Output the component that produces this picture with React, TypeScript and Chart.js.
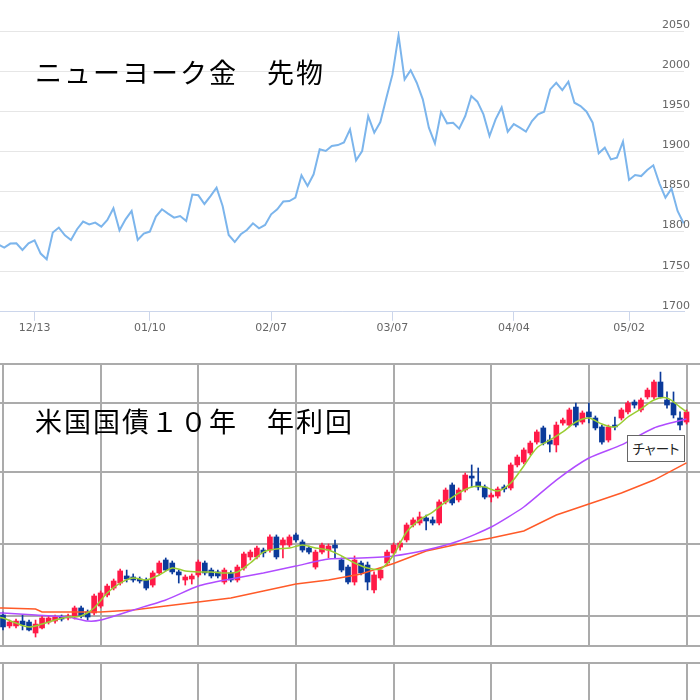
import React, { useEffect, useRef } from 'react';
import { Chart, registerables } from 'chart.js';

Chart.register(...registerables);

// ---------- Top chart: NY gold futures ----------
const goldStartIndex = -1;
const goldValues = [
  1784, 1780, 1785, 1785.4, 1777, 1785.4, 1789, 1772.6, 1765.5, 1798.8,
  1805, 1795.4, 1789.5, 1802.9, 1812.5, 1809, 1811.2, 1806.2, 1814.4, 1829,
  1801.6, 1815.3, 1825.7, 1789.5, 1797.5, 1800, 1818.7, 1827.8, 1822.4, 1817.4,
  1819.4, 1813.2, 1846.1, 1845.2, 1834.4, 1844.3, 1854.8, 1831.9, 1795.8, 1787,
  1796.6, 1802, 1810.3, 1804.1, 1808.2, 1821.5, 1827.8, 1837.4, 1838.1, 1842.3,
  1870.1, 1856.8, 1871.4, 1902.5, 1900.4, 1906.6, 1907.8, 1911, 1927.4, 1888.8,
  1900.4, 1944, 1923.3, 1936.5, 1966.9, 1995.9, 2044.5, 1989.7, 2001.2, 1985.5,
  1964.8, 1929.5, 1910, 1948.9, 1934.9, 1935.7, 1928.3, 1944, 1968.9, 1961.9,
  1946.1, 1919, 1939.8, 1954.7, 1924.5, 1934, 1929.5, 1924.5, 1937.7, 1946.1,
  1949.4, 1977.2, 1985.5, 1976.3, 1986.8, 1960.6, 1956.4, 1949.4, 1935.7, 1897.5,
  1904.6, 1890, 1892.1, 1912.1, 1864.3, 1870.5, 1869.2, 1876.7, 1882.6, 1860.1,
  1842.3, 1853.5, 1825.7, 1810.3,
];
const goldTickIndex = [5, 24, 44, 64, 84, 103];
const goldTickLabels = ['12/13', '01/10', '02/07', '03/07', '04/04', '05/02'];
const goldYTicks = [1700, 1750, 1800, 1850, 1900, 1950, 2000, 2050];

// ---------- Bottom chart: US 10Y treasury yield (daily candles) ----------
const opens = [
  1.507, 1.431, 1.431, 1.465, 1.458, 1.382, 1.417, 1.458, 1.465, 1.493,
  1.486, 1.493, 1.556, 1.528, 1.521, 1.569, 1.646, 1.694, 1.729, 1.778,
  1.771, 1.757, 1.750, 1.715, 1.799, 1.889, 1.868, 1.806, 1.750, 1.757,
  1.785, 1.868, 1.819, 1.806, 1.736, 1.799, 1.750, 1.833, 1.910, 1.910,
  1.958, 1.958, 2.049, 1.993, 1.993, 2.063, 2.014, 1.972, 1.840, 1.944,
  1.958, 1.993, 1.889, 1.840, 1.736, 1.868, 1.854, 1.681, 1.764, 1.868,
  1.938, 1.979, 2.028, 2.132, 2.146, 2.181, 2.167, 2.146, 2.292, 2.410,
  2.306, 2.375, 2.472, 2.431, 2.396, 2.326, 2.333, 2.396, 2.389, 2.549,
  2.569, 2.632, 2.708, 2.806, 2.722, 2.688, 2.840, 2.826, 2.951, 2.847,
  2.917, 2.875, 2.813, 2.722, 2.826, 2.875, 2.917, 2.986, 2.931, 3.021,
  3.021, 3.125, 3.000, 2.979, 2.875, 2.847,
];
const highs = [
  1.528, 1.472, 1.479, 1.507, 1.472, 1.472, 1.500, 1.500, 1.507, 1.507,
  1.514, 1.569, 1.569, 1.542, 1.653, 1.674, 1.722, 1.757, 1.826, 1.819,
  1.792, 1.771, 1.764, 1.813, 1.882, 1.903, 1.882, 1.819, 1.785, 1.792,
  1.889, 1.882, 1.833, 1.819, 1.833, 1.813, 1.854, 1.944, 1.958, 1.986,
  1.972, 2.063, 2.063, 2.042, 2.063, 2.076, 2.028, 1.986, 1.958, 2.007,
  2.000, 2.028, 1.903, 1.854, 1.917, 1.882, 1.875, 1.806, 1.833, 1.958,
  2.007, 2.021, 2.146, 2.181, 2.222, 2.201, 2.188, 2.306, 2.389, 2.424,
  2.389, 2.493, 2.549, 2.528, 2.410, 2.354, 2.396, 2.410, 2.563, 2.618,
  2.667, 2.715, 2.792, 2.819, 2.757, 2.847, 2.875, 2.944, 2.979, 2.924,
  2.979, 2.889, 2.826, 2.826, 2.882, 2.944, 2.993, 3.000, 3.014, 3.083,
  3.139, 3.194, 3.056, 3.056, 2.917, 2.931,
];
const lows = [
  1.403, 1.417, 1.417, 1.403, 1.396, 1.354, 1.410, 1.444, 1.451, 1.465,
  1.472, 1.479, 1.486, 1.472, 1.507, 1.556, 1.632, 1.681, 1.715, 1.736,
  1.736, 1.729, 1.681, 1.701, 1.785, 1.813, 1.792, 1.729, 1.715, 1.722,
  1.771, 1.785, 1.764, 1.764, 1.722, 1.736, 1.736, 1.819, 1.889, 1.896,
  1.910, 1.944, 1.896, 1.903, 1.979, 2.014, 1.944, 1.931, 1.826, 1.931,
  1.903, 1.903, 1.806, 1.722, 1.715, 1.785, 1.681, 1.660, 1.750, 1.854,
  1.924, 1.958, 2.014, 2.118, 2.132, 2.097, 2.132, 2.132, 2.278, 2.271,
  2.292, 2.361, 2.396, 2.375, 2.313, 2.292, 2.319, 2.361, 2.375, 2.535,
  2.556, 2.618, 2.694, 2.688, 2.639, 2.639, 2.826, 2.813, 2.813, 2.833,
  2.840, 2.792, 2.694, 2.708, 2.792, 2.861, 2.903, 2.944, 2.917, 3.007,
  3.007, 3.014, 2.944, 2.875, 2.792, 2.833,
];
const closes = [
  1.424, 1.458, 1.465, 1.438, 1.403, 1.444, 1.486, 1.486, 1.493, 1.479,
  1.500, 1.556, 1.500, 1.493, 1.639, 1.660, 1.708, 1.743, 1.813, 1.757,
  1.750, 1.743, 1.694, 1.799, 1.868, 1.819, 1.806, 1.785, 1.771, 1.778,
  1.875, 1.799, 1.778, 1.778, 1.819, 1.750, 1.840, 1.931, 1.944, 1.972,
  1.938, 2.049, 1.910, 2.028, 2.049, 2.028, 1.958, 1.944, 1.944, 1.993,
  1.986, 1.972, 1.819, 1.736, 1.889, 1.799, 1.736, 1.785, 1.819, 1.944,
  1.993, 2.007, 2.132, 2.167, 2.188, 2.160, 2.146, 2.292, 2.375, 2.285,
  2.375, 2.479, 2.458, 2.396, 2.326, 2.340, 2.382, 2.382, 2.549, 2.604,
  2.653, 2.701, 2.778, 2.701, 2.694, 2.826, 2.861, 2.931, 2.826, 2.910,
  2.882, 2.806, 2.708, 2.813, 2.813, 2.931, 2.979, 2.965, 3.000, 3.069,
  3.125, 3.021, 2.965, 2.896, 2.826, 2.917,
];

const maShortIndex = [
  -1, 0, 2, 4, 6, 8, 10, 12, 14, 16, 18, 20, 22, 24, 26, 28, 30, 32, 34, 36,
  38, 40, 42, 44, 46, 48, 50, 52, 54, 56, 58, 60, 62, 64, 66, 68, 70, 72, 74, 76,
  78, 80, 82, 84, 86, 88, 90, 92, 94, 96, 98, 100, 102, 104, 105,
];
const maShort = [
  1.493, 1.486, 1.451, 1.424, 1.444, 1.472, 1.493, 1.500, 1.556, 1.660, 1.729,
  1.764, 1.750, 1.785, 1.833, 1.813, 1.806, 1.806, 1.799, 1.806, 1.868, 1.944,
  1.965, 1.972, 1.993, 1.972, 1.958, 1.917, 1.868, 1.833, 1.826, 1.924, 2.083,
  2.167, 2.222, 2.292, 2.354, 2.396, 2.396, 2.368, 2.424, 2.542, 2.667, 2.722,
  2.778, 2.847, 2.875, 2.833, 2.813, 2.882, 2.938, 3.000, 3.014, 2.951, 2.917,
];
const maMidIndex = [-1, 0, 5, 10, 13, 15, 20, 25, 30, 35, 40, 45, 50, 55, 60, 65, 70, 75, 80, 85, 90, 95, 100, 105];
const maMid = [
  1.521, 1.521, 1.507, 1.493, 1.465, 1.472, 1.542, 1.611, 1.708, 1.757, 1.799, 1.847,
  1.896, 1.903, 1.917, 1.958, 2.021, 2.118, 2.257, 2.444, 2.597, 2.688, 2.806, 2.868,
];
const maLongIndex = [-1, 0, 5, 6, 10, 15, 20, 25, 30, 35, 40, 45, 50, 55, 60, 65, 70, 75, 80, 85, 90, 95, 100, 105];
const maLong = [
  1.556, 1.556, 1.549, 1.528, 1.528, 1.528, 1.542, 1.569, 1.597, 1.625, 1.674, 1.722,
  1.750, 1.792, 1.865, 1.951, 2.000, 2.042, 2.090, 2.201, 2.278, 2.354, 2.444, 2.563,
];
const gridIndex = [0, 15, 30, 45, 60, 75, 90, 105];
const yieldGrid = [1.5, 2.0, 2.5, 2.98];
const yieldMin = 1.2917;
const yieldMax = 3.25;

const UP = '#ff1a47';
const DOWN = '#0b3a9a';
const GRID = '#ababab';

export default function App() {
  const topRef = useRef<HTMLCanvasElement>(null);
  const botRef = useRef<HTMLCanvasElement>(null);
  const subRef = useRef<HTMLCanvasElement>(null);

  useEffect(() => {
    document.body.style.margin = '0';
    document.body.style.background = '#fff';
    const tickFont = { family: 'DejaVu Sans', size: 11 };

    const top = new Chart(topRef.current!, {
      type: 'line',
      data: {
        datasets: [
          {
            data: goldValues.map((v, i) => ({ x: goldStartIndex + i, y: v })),
            borderColor: '#7cb5ec',
            borderWidth: 2,
            pointRadius: 0,
            tension: 0,
            fill: false,
          },
        ],
      },
      options: {
        animation: false,
        responsive: false,
        layout: { padding: { top: 31, right: 4, left: 0, bottom: 9 } },
        plugins: { legend: { display: false }, tooltip: { enabled: false } },
        scales: {
          x: {
            type: 'linear',
            min: -0.7,
            max: 112.06,
            afterBuildTicks: (s: any) => {
              s.ticks = goldTickIndex.map((v) => ({ value: v }));
            },
            ticks: {
              autoSkip: false,
              maxRotation: 0,
              color: '#666',
              font: tickFont,
              padding: 1,
              callback: (_v: any, i: number) => goldTickLabels[i],
            },
            grid: { drawOnChartArea: false, drawTicks: true, tickLength: 9, color: '#ccd6eb', lineWidth: 1 },
            border: { display: true, color: '#ccd6eb', width: 1 },
          },
          y: {
            position: 'right',
            min: 1700,
            max: 2050,
            afterBuildTicks: (s: any) => {
              s.ticks = goldYTicks.map((v) => ({ value: v }));
            },
            ticks: {
              mirror: true,
              padding: 6,
              labelOffset: -6,
              color: '#666',
              font: tickFont,
              callback: (v: any) => String(v),
            },
            grid: { color: '#e6e6e6', drawTicks: false, lineWidth: 1 },
            border: { display: false },
          },
        },
      },
    } as any);

    const colors = closes.map((c, i) => (c >= opens[i] ? UP : DOWN));
    const xGrid = {
      type: 'linear',
      min: -0.461,
      max: 107.07,
      offset: false,
      afterBuildTicks: (s: any) => {
        s.ticks = gridIndex.map((v) => ({ value: v }));
      },
      ticks: { display: false },
      grid: { color: GRID, lineWidth: 2, drawTicks: false, offset: false },
      border: { display: false },
    };

    const bot = new Chart(botRef.current!, {
      type: 'bar',
      data: {
        datasets: [
          {
            type: 'line',
            data: maShort.map((v, i) => ({ x: maShortIndex[i], y: v })),
            borderColor: '#9acd32',
            borderWidth: 1.5,
            pointRadius: 0,
            tension: 0.3,
            order: 0,
          },
          {
            type: 'line',
            data: maMid.map((v, i) => ({ x: maMidIndex[i], y: v })),
            borderColor: '#b04cff',
            borderWidth: 1.5,
            pointRadius: 0,
            tension: 0.2,
            order: 0,
          },
          {
            type: 'line',
            data: maLong.map((v, i) => ({ x: maLongIndex[i], y: v })),
            borderColor: '#ff5a28',
            borderWidth: 1.5,
            pointRadius: 0,
            tension: 0,
            order: 0,
          },
          {
            type: 'bar',
            data: opens.map((o, i) => ({ x: i, y: [Math.min(o, closes[i]), Math.max(o, closes[i])] })),
            backgroundColor: colors,
            borderWidth: 0,
            barThickness: 5,
            grouped: false,
            order: 1,
          },
          {
            type: 'bar',
            data: lows.map((l, i) => ({ x: i, y: [l, highs[i]] })),
            backgroundColor: colors,
            borderWidth: 0,
            barThickness: 1,
            grouped: false,
            order: 2,
          },
        ],
      },
      options: {
        animation: false,
        responsive: false,
        layout: { padding: { top: 9, bottom: 9, left: 0, right: 0 } },
        plugins: { legend: { display: false }, tooltip: { enabled: false } },
        scales: {
          x: xGrid,
          y: {
            type: 'linear',
            min: yieldMin,
            max: yieldMax,
            afterBuildTicks: (s: any) => {
              s.ticks = [yieldMin, ...yieldGrid, yieldMax].map((v) => ({ value: v }));
            },
            ticks: { display: false },
            grid: { color: GRID, lineWidth: 2, drawTicks: false },
            border: { display: false },
          },
        },
      },
    } as any);

    const sub = new Chart(subRef.current!, {
      type: 'line',
      data: { datasets: [{ data: [], pointRadius: 0 }] },
      options: {
        animation: false,
        responsive: false,
        layout: { padding: { top: 8, bottom: 0, left: 0, right: 0 } },
        plugins: { legend: { display: false }, tooltip: { enabled: false } },
        scales: {
          x: xGrid,
          y: {
            type: 'linear',
            min: 0,
            max: 1,
            afterBuildTicks: (s: any) => {
              s.ticks = [{ value: 1 }];
            },
            ticks: { display: false },
            grid: { color: GRID, lineWidth: 2, drawTicks: false },
            border: { display: false },
          },
        },
      },
    } as any);

    return () => {
      top.destroy();
      bot.destroy();
      sub.destroy();
    };
  }, []);

  const titleStyle: React.CSSProperties = {
    position: 'absolute',
    left: 35,
    fontFamily: '"Noto Sans CJK JP", sans-serif',
    fontSize: 27,
    lineHeight: '27px',
    letterSpacing: 2,
    color: '#000',
    whiteSpace: 'pre',
  };

  return (
    <div style={{ position: 'relative', width: 700, height: 700, background: '#fff', overflow: 'hidden' }}>
      <canvas ref={topRef} width={700} height={345} style={{ position: 'absolute', left: 0, top: 0, width: 700, height: 345 }} />
      <canvas ref={botRef} width={700} height={300} style={{ position: 'absolute', left: 0, top: 355, width: 700, height: 300 }} />
      <canvas ref={subRef} width={700} height={45} style={{ position: 'absolute', left: 0, top: 655, width: 700, height: 45 }} />
      <div style={{ ...titleStyle, top: 58 }}>ニューヨーク金　先物</div>
      <div style={{ ...titleStyle, top: 407 }}>米国国債１０年　年利回</div>
      <div
        style={{
          position: 'absolute',
          left: 627,
          top: 435,
          width: 56,
          height: 25,
          border: '1px solid #666',
          background: '#fff',
          fontFamily: '"Noto Sans CJK JP", sans-serif',
          fontSize: 13.5,
          fontFeatureSettings: '"palt"',
          lineHeight: '25px',
          textAlign: 'center',
          color: '#222',
        }}
      >
        チャート
      </div>
    </div>
  );
}
